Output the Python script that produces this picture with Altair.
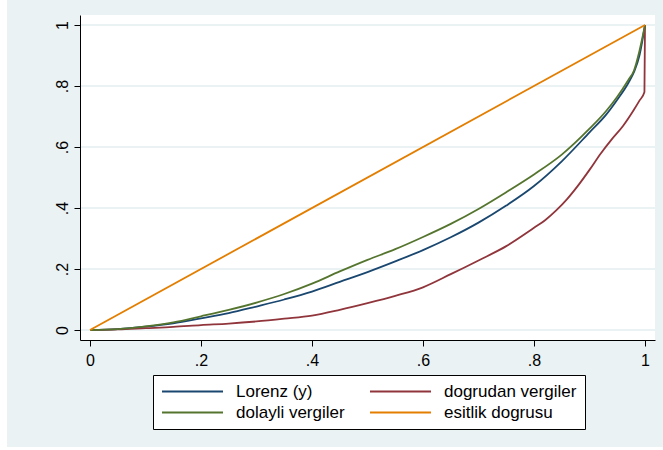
import altair as alt
import pandas as pd

# ---- data ----
x_grid = [0, .05, .1, .15, .2, .25, .3, .35, .4, .45, .5, .55, .6, .65, .7, .75,
          .8, .85, .9, .93, .95, .97, .98, .99, 1.0]
lorenz_y = [0, .003, .011, .022, .038, .055, .077, .1, .126, .158, .19, .225, .262,
            .304, .352, .408, .472, .553, .648, .706, .755, .81, .845, .9, 1.0]
dolayli_y = [0, .003, .012, .025, .045, .066, .09, .118, .152, .192, .23, .265, .305,
             .348, .397, .452, .51, .575, .66, .718, .765, .82, .85, .915, 1.0]
dogrudan_x = [0, .05, .1, .15, .2, .25, .3, .35, .4, .45, .5, .55, .6, .65, .7,
              .75, .8, .82, .84, .86, .88, .9, .92, .94, .96, .98, .99, .999, 1.0]
dogrudan_y = [0, .002, .006, .01, .016, .021, .028, .037, .047, .066, .088, .112,
              .14, .183, .228, .275, .335, .36, .392, .43, .475, .525, .578, .625,
              .668, .722, .752, .78, 1.0]
esitlik_x = [0, 1]
esitlik_y = [0, 1]

series_names = ["Lorenz (y)", "dolayli vergiler", "dogrudan vergiler", "esitlik dogrusu"]
series_colors = ["#1a476f", "#55752f", "#90353b", "#e37e00"]
tick_values = [0, 0.2, 0.4, 0.6, 0.8, 1.0]

rows = []
for xs, ys, name in [(x_grid, lorenz_y, "Lorenz (y)"),
                     (dogrudan_x, dogrudan_y, "dogrudan vergiler"),
                     (x_grid, dolayli_y, "dolayli vergiler"),
                     (esitlik_x, esitlik_y, "esitlik dogrusu")]:
    for a, b in zip(xs, ys):
        rows.append({"x": a, "y": b, "series": name})
df = pd.DataFrame(rows)
grid_df = pd.DataFrame({"y": tick_values})

W, H = 575, 325
FONT = "Liberation Sans"

xscale = alt.Scale(domain=[-0.018018, 1.018018], nice=False, zero=False)
yscale = alt.Scale(domain=[-0.03279, 1.03279], nice=False, zero=False)

label_expr = "datum.value == 0 ? '0' : (datum.value == 1 ? '1' : replace(format(datum.value, '.1f'), '0.', '.'))"

xaxis = alt.Axis(values=tick_values, labelExpr=label_expr, title=None, grid=False,
                 tickSize=6, labelPadding=6, zindex=1)
yaxis = alt.Axis(values=tick_values, labelExpr=label_expr, title=None, grid=False,
                 tickSize=6, labelPadding=7, labelAngle=270, labelAlign="center",
                 labelBaseline="alphabetic", zindex=1)

one = alt.Data(values=[{"a": 1}])

outer_bg = alt.Chart(one).mark_rect(color="#eaf2f3").encode(
    x=alt.value(-73), x2=alt.value(583), y=alt.value(-15), y2=alt.value(432))
plot_bg = alt.Chart(one).mark_rect(color="white").encode(
    x=alt.value(0), x2=alt.value(W), y=alt.value(0), y2=alt.value(H))

grid = alt.Chart(grid_df).mark_rule(color="#e4eef0", strokeWidth=1.5).encode(
    y=alt.Y("y:Q", scale=yscale, axis=yaxis),
    x=alt.value(0), x2=alt.value(W))

lines = alt.Chart(df).mark_line(strokeWidth=1.8, interpolate="monotone").encode(
    x=alt.X("x:Q", scale=xscale, axis=xaxis),
    y=alt.Y("y:Q", scale=yscale, axis=yaxis),
    color=alt.Color("series:N",
                    scale=alt.Scale(domain=series_names, range=series_colors),
                    sort=series_names,
                    legend=alt.Legend(orient="none", legendX=73, legendY=360,
                                      columns=2, symbolType="stroke",
                                      symbolSize=3721, symbolStrokeWidth=2,
                                      clipHeight=17, rowPadding=3,
                                      columnPadding=24, labelOffset=12,
                                      padding=8, fillColor="white",
                                      strokeColor="black", labelFontSize=17,
                                      labelFont=FONT, labelColor="black",
                                      labelLimit=400, title=None)),
)

chart = alt.layer(outer_bg, plot_bg, grid, lines).properties(
    width=W, height=H,
    autosize=alt.AutoSizeParams(type="none"),
    padding={"left": 80, "top": 15, "right": 8, "bottom": 110},
    background="white",
).configure_view(stroke="transparent").configure_axis(
    labelFont=FONT, labelFontSize=16, labelColor="black",
    domainColor="black", domainWidth=1, tickColor="black", tickWidth=1,
)

chart.save("out.html", embed_options={"renderer": "svg", "actions": False})
